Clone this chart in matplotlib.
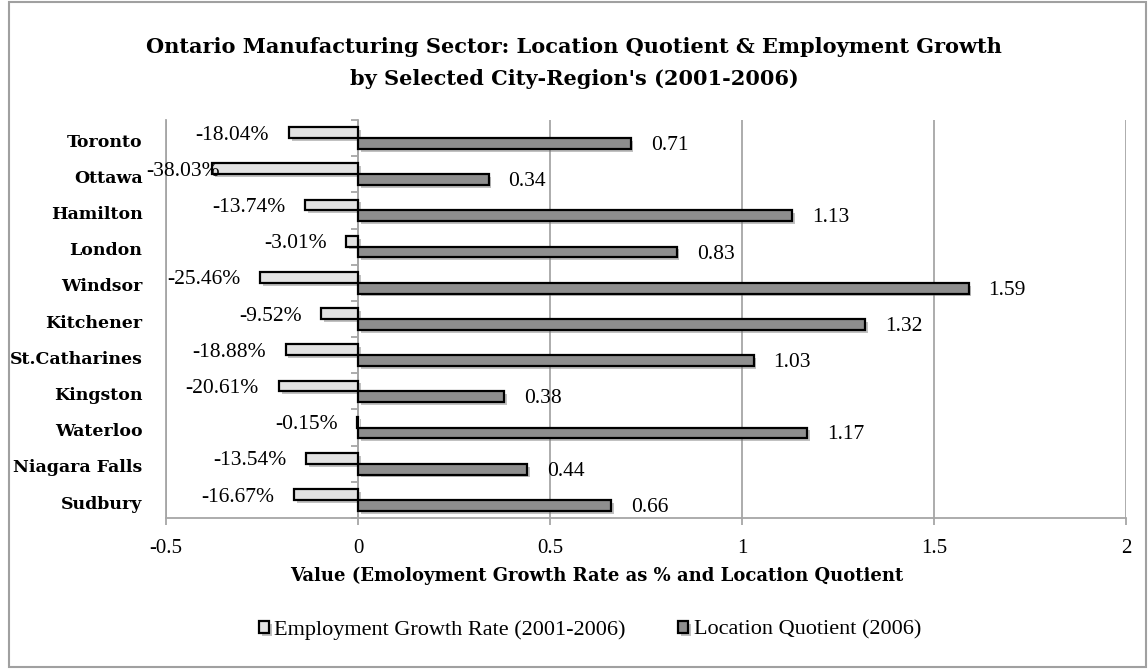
import matplotlib
matplotlib.use("Agg")
import matplotlib.pyplot as plt
import matplotlib.patheffects as pe
from matplotlib.patches import Rectangle
import numpy as np

# ---- data ----
cities = ["Toronto", "Ottawa", "Hamilton", "London", "Windsor", "Kitchener",
          "St.Catharines", "Kingston", "Waterloo", "Niagara Falls", "Sudbury"]
growth_pct = [-18.04, -38.03, -13.74, -3.01, -25.46, -9.52,
              -18.88, -20.61, -0.15, -13.54, -16.67]
location_quotient = [0.71, 0.34, 1.13, 0.83, 1.59, 1.32,
                     1.03, 0.38, 1.17, 0.44, 0.66]
x_ticks = [-0.5, 0, 0.5, 1, 1.5, 2]
x_tick_labels = ["-0.5", "0", "0.5", "1", "1.5", "2"]

title = ("Ontario Manufacturing Sector: Location Quotient & Employment Growth\n"
         "by Selected City-Region's (2001-2006)")
x_label = "Value (Emoloyment Growth Rate as % and Location Quotient"
series_names = ["Employment Growth Rate (2001-2006)", "Location Quotient (2006)"]

# ---- style ----
plt.rcParams["font.family"] = ["Liberation Serif", "DejaVu Serif"]
BOLD = dict(family="DejaVu Serif", fontweight="bold")
LIGHT = "#e2e2e2"
DARK = "#8e8e8e"
GRID = "#a6a6a6"

W, H = 1148, 669
fig = plt.figure(figsize=(W / 100, H / 100), dpi=100)
# plot area in pixel coordinates: x 166..1126, y 120..518
ax = fig.add_axes([166 / W, 1 - 518 / H, 960 / W, 398 / H])

n = len(cities)
y = np.arange(n)
h = 0.3
growth = np.array(growth_pct) / 100.0
lq = np.array(location_quotient)

shadow = [pe.SimplePatchShadow(offset=(2, -2), shadow_rgbFace="#777777", alpha=0.45),
          pe.Normal()]

bars_g = ax.barh(y - h / 2, growth, height=h, color=LIGHT, edgecolor="black",
                 linewidth=1.6, label=series_names[0], zorder=3)
bars_l = ax.barh(y + h / 2, lq, height=h, color=DARK, edgecolor="black",
                 linewidth=1.6, label=series_names[1], zorder=3)
for b in list(bars_g) + list(bars_l):
    b.set_path_effects(shadow)

ax.set_xlim(-0.5, 2)
ax.set_ylim(n - 0.5, -0.5)

# vertical gridlines
ax.set_xticks(x_ticks)
ax.set_xticklabels(x_tick_labels, fontsize=15)
ax.grid(axis="x", color=GRID, linewidth=1.3, zorder=0)
ax.tick_params(axis="x", direction="out", length=5, width=1.3, color=GRID, pad=10)

# category labels on the left
ax.set_yticks(y + 0.06)
ax.set_yticklabels(cities, fontsize=12.5, **BOLD)
ax.tick_params(axis="y", length=0, pad=17)

for side in ["top", "right"]:
    ax.spines[side].set_visible(False)
ax.spines["left"].set_color(GRID)
ax.spines["left"].set_linewidth(1.3)
ax.spines["bottom"].set_color(GRID)
ax.spines["bottom"].set_linewidth(1.3)

# category axis crossing at zero
sec = ax.secondary_yaxis(0.2)
sec.spines["left"].set_color(GRID)
sec.spines["left"].set_linewidth(1.3)
sec.set_yticks(np.arange(n + 1) - 0.5)
sec.set_yticklabels([])
sec.tick_params(axis="y", direction="out", length=5, width=1.3, color=GRID)

# value labels
for yi, v, pct in zip(y, growth, growth_pct):
    xr = max(v - 0.052, -0.359)
    ax.text(xr, yi - h / 2 + 0.07, f"{pct:.2f}%", ha="right", va="center",
            fontsize=15.5, zorder=4)
for yi, v in zip(y, lq):
    ax.annotate(f"{v:.2f}", (v, yi + h / 2), xytext=(20, -2),
                textcoords="offset pixels", ha="left", va="center", fontsize=15.5,
                zorder=4)

fig.text(597 / W, 1 - 576 / H, x_label, fontsize=13, ha="center", va="center", **BOLD)

fig.suptitle(title, fontsize=15, y=0.944, linespacing=1.72, **BOLD)

leg = fig.legend(handles=[bars_g, bars_l], labels=series_names,
                 loc="center", bbox_to_anchor=(590 / W, 1 - 630 / H), ncol=2,
                 frameon=False, fontsize=16, handlelength=0.45, handleheight=0.45,
                 handletextpad=0.25, columnspacing=2.35)

# chart border
fig.patches.append(Rectangle((9 / W, 1 - 667 / H), 1137 / W, 665 / H,
                             transform=fig.transFigure, fill=False,
                             edgecolor="#a0a0a0", linewidth=1.5))

fig.savefig("out.png", dpi=100)
